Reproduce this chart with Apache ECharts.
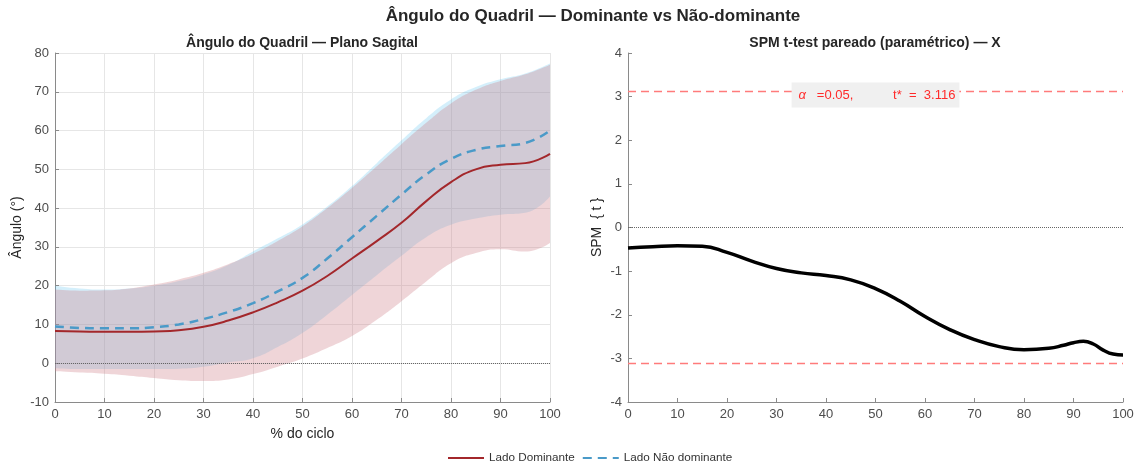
<!DOCTYPE html>
<html><head><meta charset="utf-8">
<script src="https://cdn.jsdelivr.net/npm/echarts@6/dist/echarts.min.js"></script>
<style>html,body{margin:0;padding:0;background:#fff}#c{width:1140px;height:468px}</style>
</head><body><div id="c"></div>
<script>
// ---- data ----
const pct = [0,5,10,15,20,25,30,35,40,45,50,55,60,65,70,75,80,85,90,95,100];
const domMean  = [8.3,8.2,8.1,8.1,8.2,8.5,9.4,11.0,13.1,15.7,18.7,22.5,27.0,31.5,36.2,41.8,46.7,50.0,51.2,51.6,54.0];
const domUpper = [19.0,18.7,18.8,19.3,20.3,21.6,23.3,25.5,28.2,31.5,35.3,40.0,45.2,50.8,56.5,62.0,67.0,70.5,72.8,74.5,77.0];
const domLower = [-2.1,-2.4,-2.7,-3.2,-3.8,-4.4,-4.6,-4.2,-2.8,-0.9,1.2,3.9,7.0,11.2,16.0,21.1,25.8,28.4,29.4,28.8,31.0];
const ndMean   = [9.5,9.1,9.0,9.0,9.3,10.0,11.4,13.2,15.5,18.5,22.0,27.0,32.5,38.0,43.5,48.7,52.7,55.0,56.0,56.8,60.0];
const ndUpper  = [20.0,19.3,19.0,19.3,20.0,21.2,22.9,25.3,28.8,32.2,35.8,40.4,45.7,51.6,57.5,63.2,68.0,71.2,73.2,74.7,77.3];
const ndLower  = [-1.3,-1.5,-1.5,-1.5,-1.5,-1.4,-0.9,0.2,1.3,4.2,7.8,12.5,17.6,22.7,27.7,32.5,35.7,37.3,38.3,38.8,43.0];
const spmX = [0,5,10,15,20,25,30,35,40,45,50,55,60,65,70,75,80,85,88,90,92,94,96,98,100];
const spmT = [-0.47,-0.44,-0.42,-0.43,-0.57,-0.77,-0.94,-1.04,-1.10,-1.20,-1.40,-1.69,-2.04,-2.34,-2.57,-2.73,-2.80,-2.77,-2.70,-2.64,-2.61,-2.67,-2.81,-2.90,-2.92];
const tCrit = 3.116;
const alphaLevel = '0.05';
const leftYTicks = {min:-10, max:80, interval:10};
const rightYTicks = {min:-4, max:4, interval:1};
const mainTitle = 'Ângulo do Quadril — Dominante vs Não-dominante';
const leftTitle = 'Ângulo do Quadril — Plano Sagital';
const rightTitle = 'SPM t-test pareado (paramétrico) — X';

// ---- build ----
const FONT = 'Liberation Sans, Arial, sans-serif';
const pairs = (xs, ys) => xs.map((x,i)=>[x, ys[i]]);
const diff = (u,l) => u.map((v,i)=> +(v - l[i]).toFixed(3));
const axisLbl = {fontSize:13, color:'#4d4d4d', fontFamily:FONT, margin:6};
const axLine = {show:true, onZero:false, lineStyle:{color:'#8a8a8a', width:1}};
const axTick = {show:true, inside:true, length:4, lineStyle:{color:'#8a8a8a'}};
const hidden = {lineStyle:{opacity:0, width:0}, symbol:'none', showSymbol:false, silent:true, smooth:true};
const nameStyle = {fontSize:14, color:'#262626', fontFamily:FONT};

const chart = echarts.init(document.getElementById('c'), null, {renderer:'canvas'});
chart.setOption({
  animation:false,
  backgroundColor:'#fff',
  textStyle:{fontFamily:FONT},
  title:[
    {text:mainTitle, left:588, textAlign:'center', top:3, textStyle:{fontSize:17, fontWeight:'bold', color:'#262626', fontFamily:FONT}},
    {text:leftTitle, left:297, textAlign:'center', top:31, textStyle:{fontSize:14, fontWeight:'bold', color:'#262626', fontFamily:FONT}},
    {text:rightTitle, left:870, textAlign:'center', top:31, textStyle:{fontSize:14, fontWeight:'bold', color:'#262626', fontFamily:FONT}}
  ],
  legend:{
    data:[{name:'Lado Dominante'},{name:'Lado Não dominante'}],
    left:442, top:447, itemWidth:36, itemHeight:10, itemGap:7,
    itemStyle:{opacity:0},
    textStyle:{fontSize:11.7, color:'#333', fontFamily:FONT}
  },
  grid:[
    {left:55, right:590, top:53, bottom:66},
    {left:628, right:17, top:53, bottom:66}
  ],
  xAxis:[
    {type:'category', gridIndex:0, data:pct.map(String), boundaryGap:false,
     name:'% do ciclo', nameLocation:'middle', nameGap:25, nameTextStyle:nameStyle,
     axisLine:axLine, axisTick:{...axTick, interval:1}, axisLabel:{...axisLbl, interval:1},
     splitLine:{show:true, interval:1, lineStyle:{color:'#e6e6e6'}}},
    {type:'value', gridIndex:1, min:0, max:100, interval:10,
     axisLine:axLine, axisTick:axTick, axisLabel:axisLbl, splitLine:{show:false}}
  ],
  yAxis:[
    {type:'value', gridIndex:0, ...leftYTicks, name:'Ângulo (°)', nameLocation:'middle', nameGap:31, nameTextStyle:nameStyle,
     axisLine:axLine, axisTick:axTick, axisLabel:axisLbl,
     splitLine:{show:true, lineStyle:{color:'#e6e6e6'}}},
    {type:'value', gridIndex:1, ...rightYTicks, name:'SPM  { t }', nameLocation:'middle', nameGap:24, nameTextStyle:nameStyle,
     axisLine:axLine, axisTick:axTick, axisLabel:axisLbl, splitLine:{show:false}}
  ],
  series:[
    {type:'line', name:'ndLow', xAxisIndex:0, yAxisIndex:0, stack:'nd', stackStrategy:'all', data:ndLower, ...hidden, z:1},
    {type:'line', name:'ndBand', xAxisIndex:0, yAxisIndex:0, stack:'nd', stackStrategy:'all', data:diff(ndUpper, ndLower), ...hidden,
     areaStyle:{color:'rgba(77,190,238,0.35)'}, z:1},
    {type:'line', name:'domLow', xAxisIndex:0, yAxisIndex:0, stack:'dom', stackStrategy:'all', data:domLower, ...hidden, z:2},
    {type:'line', name:'domBand', xAxisIndex:0, yAxisIndex:0, stack:'dom', stackStrategy:'all', data:diff(domUpper, domLower), ...hidden,
     areaStyle:{color:'rgba(204,124,133,0.45)'}, z:2},
    {type:'line', name:'Lado Dominante', xAxisIndex:0, yAxisIndex:0, data:domMean, smooth:true,
     symbol:'none', showSymbol:false, lineStyle:{color:'#a3272b', width:2}, itemStyle:{color:'#a3272b'}, z:4,
     markLine:{silent:true, symbol:'none', label:{show:false},
       lineStyle:{type:'dotted', color:'#666', width:1}, data:[{yAxis:0}]}},
    {type:'line', name:'Lado Não dominante', xAxisIndex:0, yAxisIndex:0, data:ndMean, smooth:true,
     symbol:'none', showSymbol:false, lineStyle:{color:'#4a9ac8', width:2.5, type:[9,6]}, itemStyle:{color:'#4a9ac8'}, z:5},
    {type:'line', name:'SPM', xAxisIndex:1, yAxisIndex:1, data:pairs(spmX, spmT), smooth:true,
     symbol:'none', showSymbol:false, lineStyle:{color:'#000', width:3.5}, z:4,
     markLine:{silent:true, symbol:'none', label:{show:false},
       data:[
         {yAxis:tCrit, lineStyle:{type:[8,5], color:'#ff7b7b', width:1.3}},
         {yAxis:-tCrit, lineStyle:{type:[8,5], color:'#ff7b7b', width:1.3}},
         {yAxis:0, lineStyle:{type:'dotted', color:'#666', width:1}}
       ]},
     markPoint:{silent:true, symbol:'rect', symbolSize:0,
       data:[{coord:[50, tCrit]}],
       label:{show:true, position:'inside', offset:[0,3.5],
         formatter:'{a|α}{b|   =' + alphaLevel + ',           t*  =  ' + tCrit.toFixed(3) + '}',
         backgroundColor:'#f0f0f0', padding:[6,4,6,7],
         rich:{a:{fontStyle:'italic', color:'#ff2a2a', fontSize:13, fontFamily:FONT},
               b:{color:'#ff2a2a', fontSize:13, fontFamily:FONT}}}}}
  ]
});
</script></body></html>
